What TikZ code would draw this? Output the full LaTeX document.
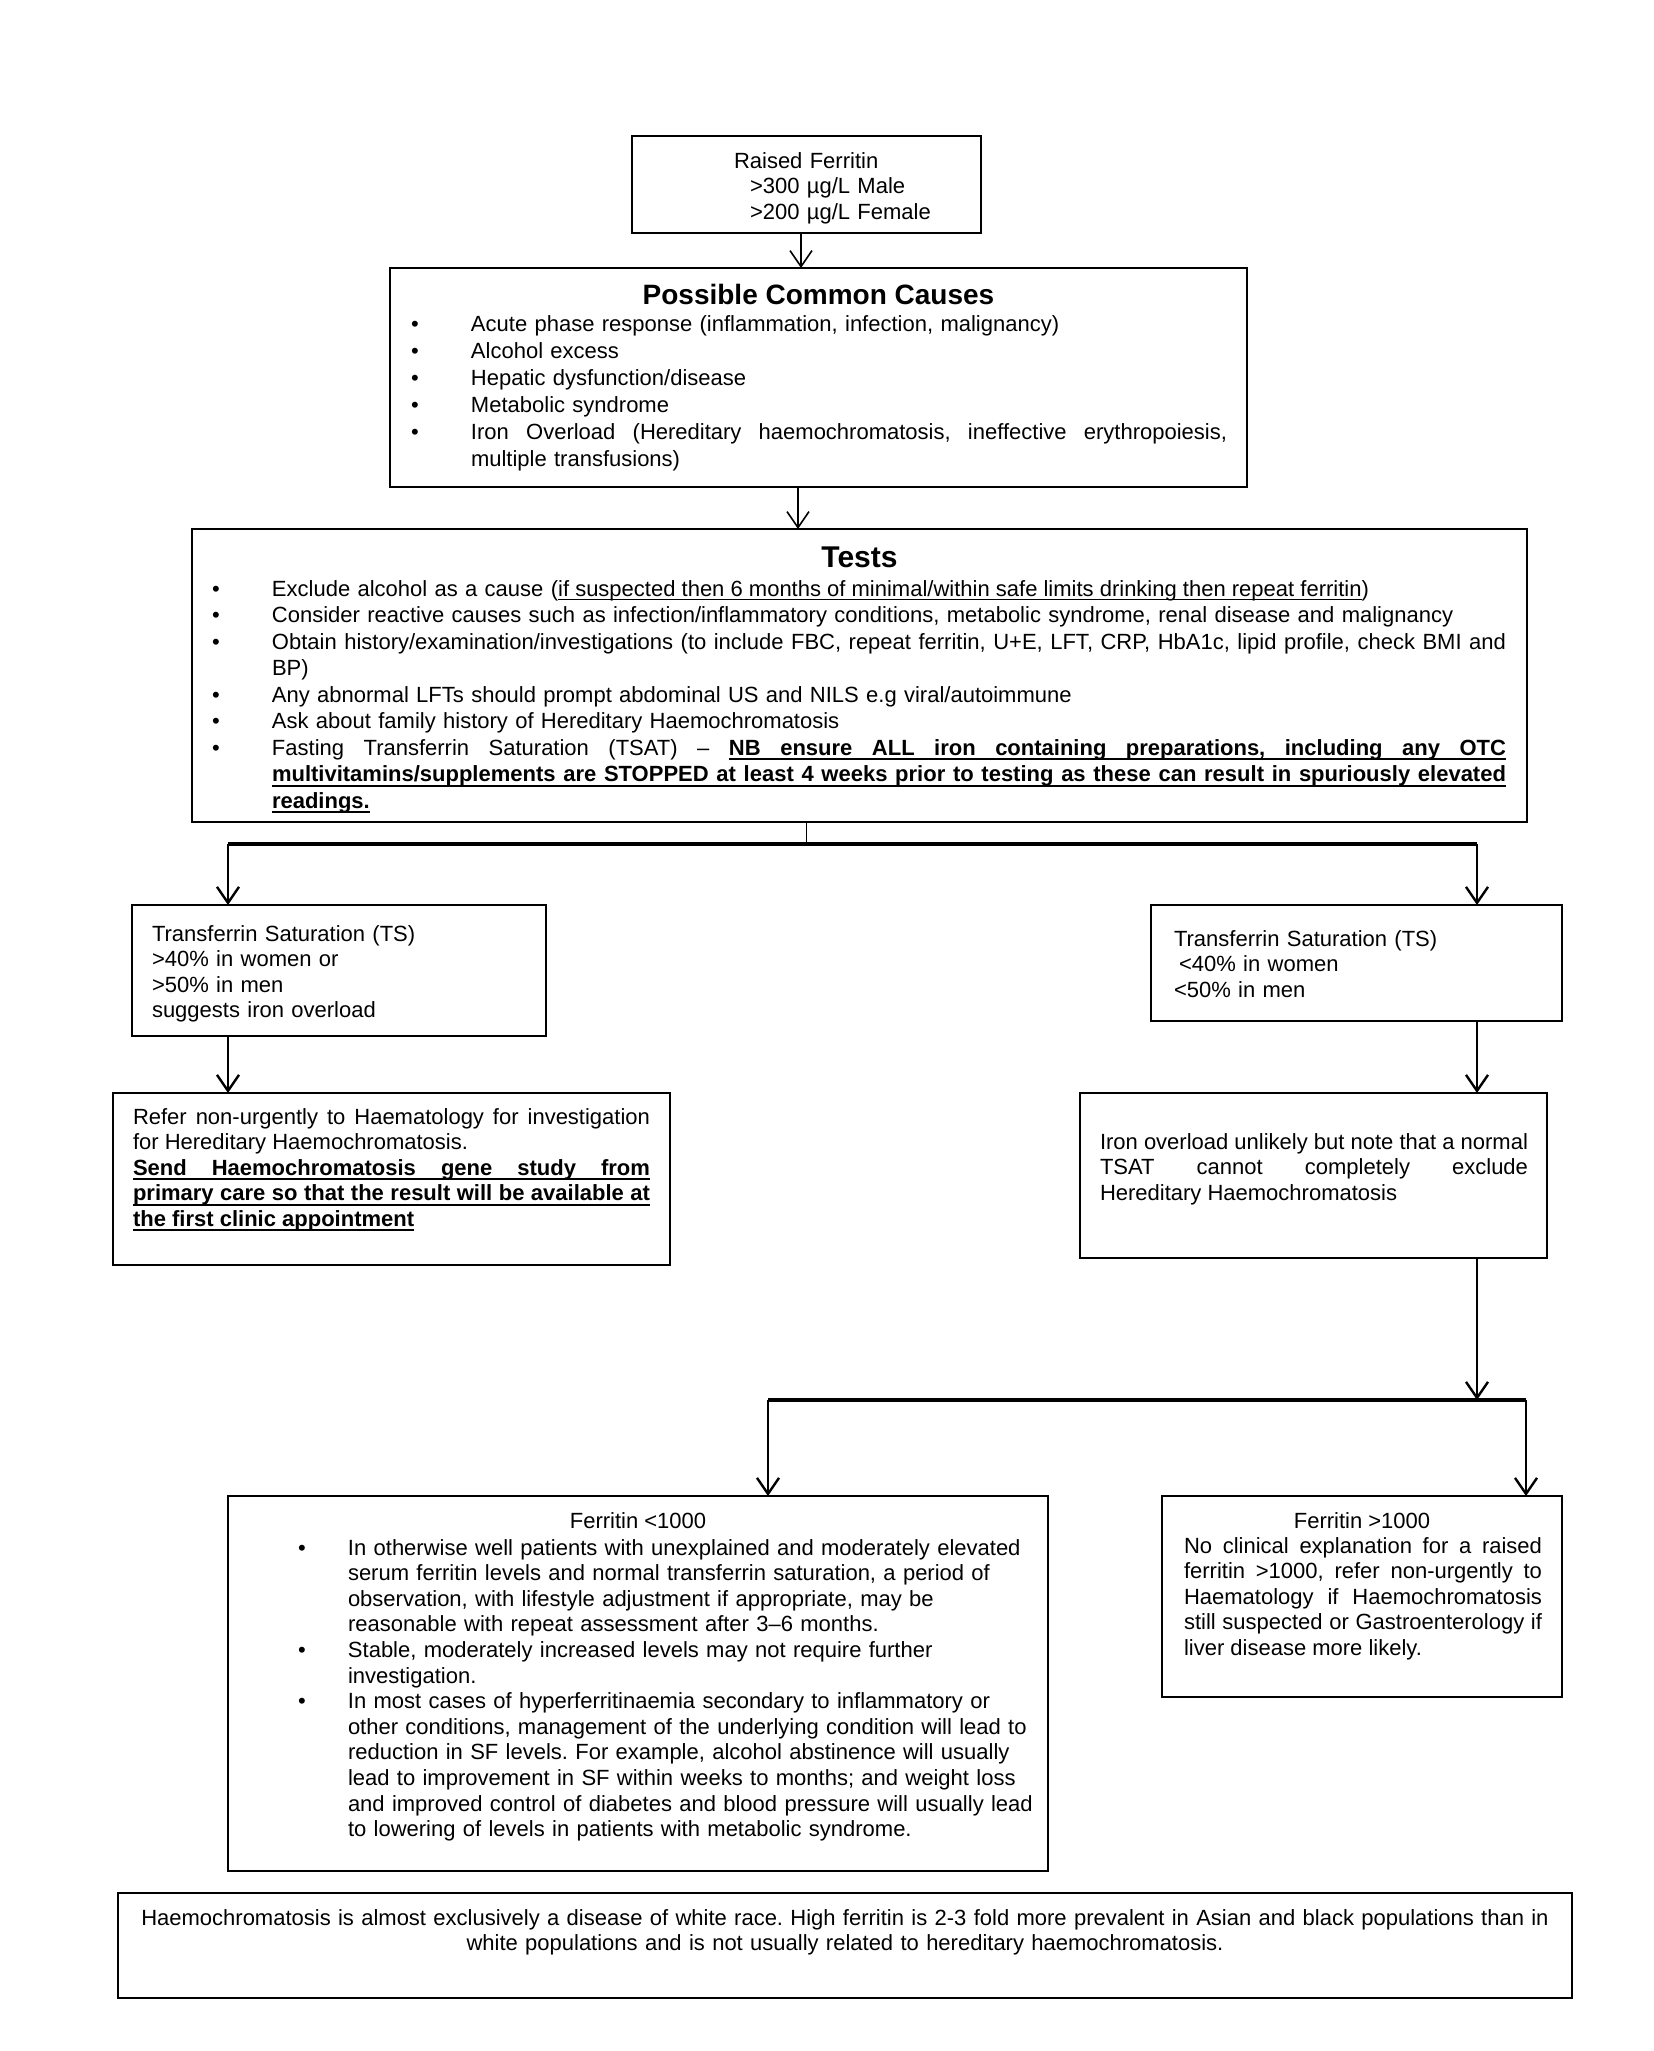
\documentclass[tikz,border=0pt]{standalone}
\usepackage{fontspec}
\setmainfont{Liberation Sans}
\usetikzlibrary{arrows.meta}
\frenchspacing
\newcommand\bul[2][30pt]{\makebox[#1][l]{\textbullet}#2}
\newcommand\cnt[2][30pt]{\hspace*{#1}#2}
\newcommand\jbox[2]{\makebox[#1][s]{\spaceskip=0pt \xspaceskip=0pt #2}}
\newdimen\ulth \newdimen\uldp
\def\ulw#1{\setbox0\hbox{#1}\rlap{\vrule height\dimexpr\ulth-\uldp\relax depth\uldp width\wd0}\box0}
\def\uls{\leaders\hrule height\dimexpr\ulth-\uldp\relax depth\uldp\hskip\fontdimen2\font plus\fontdimen3\font minus\fontdimen4\font\relax}
\def\ulsplit#1 #2\ulend{\ulw{#1}\ifx\relax#2\relax\else\uls\ulsplit#2\ulend\fi}
\newcommand\thinul[1]{\leavevmode{\ulth=0.5pt\uldp=1.8pt\ulsplit#1 \ulend}}
\newcommand\thickul[1]{\leavevmode{\bfseries\ulth=1.1pt\uldp=2.7pt\ulsplit#1 \ulend}}
\begin{document}
\begin{tikzpicture}[x=0.5pt,y=-0.5pt,
  box/.style={draw,line width=0.55pt,inner sep=0pt,outer sep=0pt,anchor=north west},
  txt/.style={inner sep=0pt,outer sep=0pt,anchor=base west,font=\fontsize{11}{12.75}\selectfont},
  ttl/.style={inner sep=0pt,outer sep=0pt,anchor=base,font=\fontsize{14}{16}\selectfont\bfseries},
  sub/.style={inner sep=0pt,outer sep=0pt,anchor=base,font=\fontsize{11}{12.75}\selectfont},
  conn/.style={line width=1.2pt,-{Straight Barb[length=8pt,width=11pt,line width=1.2pt]}},
  thinconn/.style={line width=0.8pt,-{Straight Barb[length=8pt,width=11pt,line width=0.8pt]}},
  bar/.style={line width=1.7pt},
  stem/.style={line width=0.6pt}]
\fill[white] (0,0) rectangle (1654,2051);
\useasboundingbox (0,0) rectangle (1654,2051);
\tolerance=10000 \hyphenpenalty=10000

% boxes
\node[box,minimum width=174.5pt,minimum height=48.5pt] (b1) at (632,136) {};
\node[box,minimum width=428.5pt,minimum height=109.5pt] (b2) at (390,268) {};
\node[box,minimum width=667.5pt,minimum height=146.5pt] (b3) at (192,529) {};
\node[box,minimum width=207pt,minimum height=65.5pt] (b4) at (132,905) {};
\node[box,minimum width=205.5pt,minimum height=58pt] (b5) at (1151,905) {};
\node[box,minimum width=278.5pt,minimum height=86pt] (b6) at (113,1093) {};
\node[box,minimum width=233.5pt,minimum height=82.5pt] (b7) at (1080,1093) {};
\node[box,minimum width=410pt,minimum height=187.5pt] (b8) at (228,1496) {};
\node[box,minimum width=200pt,minimum height=100.5pt] (b9) at (1162,1496) {};
\node[box,minimum width=727pt,minimum height=52.5pt] (b10) at (118,1893) {};

% texts
\node[txt,text width=120pt,align=left] (t1) at (734,168)
  {Raised Ferritin\\\hspace*{8pt}>300 µg/L Male\\\hspace*{8pt}>200 µg/L Female};

\node[ttl] (h2) at (818.5,304) {Possible Common Causes};
\node[txt,text width=412pt,align=left,font=\fontsize{11}{13.5}\selectfont] (t2) at (411,331)
  {\bul{Acute phase response (inflammation, infection, malignancy)}\\
   \bul{Alcohol excess}\\
   \bul{Hepatic dysfunction/disease}\\
   \bul{Metabolic syndrome}\\
   \bul{\jbox{378pt}{Iron Overload (Hereditary haemochromatosis, ineffective erythropoiesis,}}\\
   \cnt{multiple transfusions)}};

\node[ttl,font=\fontsize{15}{17}\selectfont\bfseries] (h3) at (859.5,567) {Tests};
\node[txt,text width=652pt,align=left,font=\fontsize{11}{13.25}\selectfont] (t3) at (212,596)
  {\bul{Exclude alcohol as a cause (\thinul{if suspected then 6 months of minimal/within safe limits drinking then repeat ferritin})}\\
   \bul{Consider reactive causes such as infection/inflammatory conditions, metabolic syndrome, renal disease and malignancy}\\
   \bul{\jbox{617pt}{Obtain history/examination/investigations (to include FBC, repeat ferritin, U+E, LFT, CRP, HbA1c, lipid profile, check BMI and}}\\
   \cnt{BP)}\\
   \bul{Any abnormal LFTs should prompt abdominal US and NILS e.g viral/autoimmune}\\
   \bul{Ask about family history of Hereditary Haemochromatosis}\\
   \bul{\jbox{617pt}{Fasting Transferrin Saturation (TSAT) – \thickul{NB ensure ALL iron containing preparations, including any OTC}}}\\
   \cnt{\jbox{617pt}{\thickul{multivitamins/supplements are STOPPED at least 4 weeks prior to testing as these can result in spuriously elevated}}}\\
   \cnt{\thickul{readings.}}};

\node[txt,text width=190pt,align=left] (t4) at (152,941)
  {Transferrin Saturation (TS)\\>40\% in women or\\>50\% in men\\suggests iron overload};
\node[txt,text width=190pt,align=left] (t5) at (1174,946)
  {Transferrin Saturation (TS)\\\hspace*{2.5pt}<40\% in women\\<50\% in men};

\node[txt,text width=258.5pt,align=justify] (t6) at (133,1124)
  {Refer non-urgently to Haematology for investigation\linebreak for Hereditary Haemochromatosis.\par
   \thickul{Send Haemochromatosis gene study from}\linebreak\thickul{primary care so that the result will be available at}\linebreak\thickul{the first clinic appointment}};

\node[txt,text width=214pt,align=justify] (t7) at (1100,1149)
  {Iron overload unlikely but note that a normal\linebreak TSAT cannot completely exclude\linebreak Hereditary Haemochromatosis};

\node[sub] (h8) at (638,1528) {Ferritin <1000};
\node[txt,text width=390pt,align=left,font=\fontsize{11}{12.8}\selectfont] (t8) at (298,1555)
  {\bul[25pt]{In otherwise well patients with unexplained and moderately elevated}\\
   \cnt[25pt]{serum ferritin levels and normal transferrin saturation, a period of}\\
   \cnt[25pt]{observation, with lifestyle adjustment if appropriate, may be}\\
   \cnt[25pt]{reasonable with repeat assessment after 3–6 months.}\\
   \bul[25pt]{Stable, moderately increased levels may not require further}\\
   \cnt[25pt]{investigation.}\\
   \bul[25pt]{In most cases of hyperferritinaemia secondary to inflammatory or}\\
   \cnt[25pt]{other conditions, management of the underlying condition will lead to}\\
   \cnt[25pt]{reduction in SF levels. For example, alcohol abstinence will usually}\\
   \cnt[25pt]{lead to improvement in SF within weeks to months; and weight loss}\\
   \cnt[25pt]{and improved control of diabetes and blood pressure will usually lead}\\
   \cnt[25pt]{to lowering of levels in patients with metabolic syndrome.}};

\node[sub] (h9) at (1362,1528) {Ferritin >1000};
\node[txt,text width=179pt,align=justify] (t9) at (1184,1553)
  {No clinical explanation for a raised\linebreak ferritin >1000, refer non-urgently to\linebreak Haematology if Haemochromatosis\linebreak still suspected or Gastroenterology if\linebreak liver disease more likely.};

\node[sub,text width=720pt,align=center] (t10) at (845,1925)
  {Haemochromatosis is almost exclusively a disease of white race. High ferritin is 2-3 fold more prevalent in Asian and black populations than in\\white populations and is not usually related to hereditary haemochromatosis.};

% junction coordinates
\coordinate (jL) at (228,844);
\coordinate (jR) at (1477,844);
\coordinate (kL) at (768,1400);
\coordinate (kR) at (1526,1400);
\coordinate (mA) at (801,0);
\coordinate (mB) at (798,0);

% connectors
\draw[thinconn] (b1.south -| mA) -- (mA |- b2.north);
\draw[thinconn] (b2.south -| mB) -- (mB |- b3.north);
\draw[stem] (b3.south -| b1.south) -- (b1.south |- jL);
\draw[bar] (jL) -- (jR);
\draw[conn] (jL) -- (jL |- b4.north);
\draw[conn] (jR) -- (jR |- b5.north);
\draw[conn] (b4.south -| jL) -- (jL |- b6.north);
\draw[conn] (b5.south -| jR) -- (jR |- b7.north);
\draw[conn] (b7.south -| jR) -- (jR |- kR);
\draw[bar] (kL) -- (kR);
\draw[conn] (kL) -- (kL |- b8.north);
\draw[conn] (kR) -- (kR |- b9.north);
\end{tikzpicture}
\end{document}
